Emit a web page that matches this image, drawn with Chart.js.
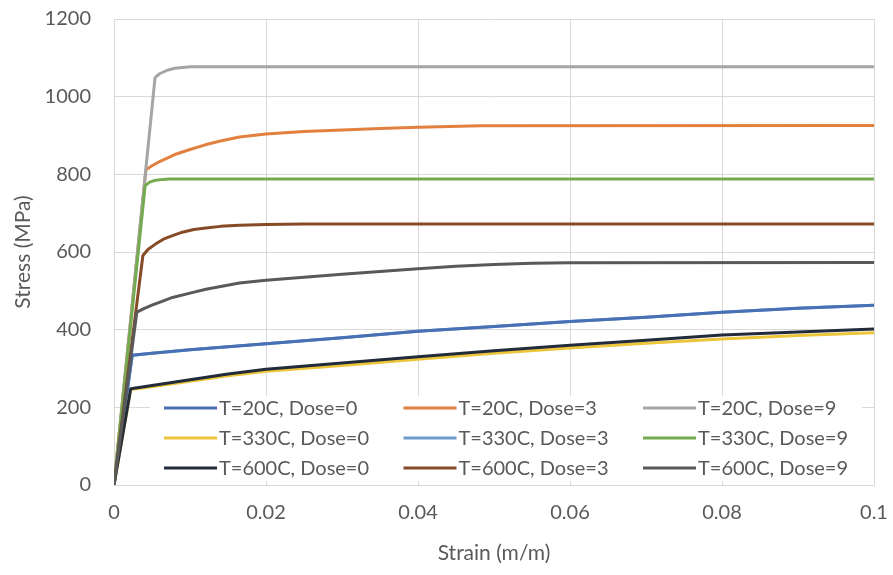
<!DOCTYPE html>
<html>
<head>
<meta charset="utf-8">
<script src="https://cdn.jsdelivr.net/npm/chart.js@4/dist/chart.umd.min.js"></script>
<style>
  html, body { margin: 0; padding: 0; background: #fff; }
  #wrap { width: 893px; height: 575px; }
</style>
</head>
<body>
<div id="wrap"><canvas id="stress-chart"></canvas></div>
<script>
// [strain (m/m), stress (MPa)] per test condition
const t20dose0 = [[0, 0], [0.0024, 334], [0.005, 339], [0.01, 348], [0.015, 356], [0.02, 364], [0.03, 379], [0.04, 396], [0.05, 408], [0.06, 421], [0.07, 432], [0.08, 445], [0.09, 455], [0.1, 463]];
const t20dose3 = [[0, 0], [0.0042, 812], [0.005, 822], [0.006, 833], [0.007, 842], [0.008, 851], [0.01, 864], [0.012, 876], [0.014, 886], [0.0165, 896], [0.02, 904], [0.025, 910], [0.03, 914], [0.035, 918], [0.04, 921], [0.0483, 925], [0.1, 926]];
const t20dose9 = [[0, 0], [0.0054, 1049], [0.006, 1059], [0.007, 1068], [0.008, 1073], [0.009, 1075], [0.0101, 1077], [0.1, 1077]];
const t330dose0 = [[0, 0], [0.0022, 246], [0.005, 253], [0.01, 267], [0.015, 281], [0.02, 293], [0.03, 308], [0.04, 324], [0.05, 339], [0.06, 353], [0.07, 365], [0.08, 376], [0.09, 385], [0.1, 392]];
const t330dose3 = [[0, 0], [0.0024, 334], [0.005, 339], [0.01, 348], [0.015, 356], [0.02, 364], [0.03, 379], [0.04, 396], [0.05, 408], [0.06, 421], [0.07, 432], [0.08, 445], [0.09, 455], [0.1, 463]];
const t330dose9 = [[0, 0], [0.0041, 771], [0.0047, 780], [0.0055, 785], [0.0065, 787], [0.0073, 788], [0.1, 788]];
const t600dose0 = [[0, 0], [0.0022, 248], [0.005, 256], [0.01, 271], [0.015, 286], [0.02, 298], [0.03, 314], [0.04, 330], [0.05, 346], [0.06, 360], [0.07, 373], [0.08, 386], [0.09, 394], [0.1, 402]];
const t600dose3 = [[0, 0], [0.0038, 591], [0.0045, 607], [0.0055, 621], [0.0065, 633], [0.0077, 642], [0.009, 651], [0.0105, 658], [0.0121, 662], [0.014, 666], [0.0165, 669], [0.02, 671], [0.025, 672], [0.1, 672]];
const t600dose9 = [[0, 0], [0.003, 445], [0.004, 455], [0.005, 463], [0.0065, 474], [0.0077, 483], [0.01, 494], [0.0121, 504], [0.0165, 520], [0.02, 527], [0.025, 535], [0.03, 543], [0.035, 550], [0.04, 557], [0.045, 563], [0.05, 568], [0.055, 571], [0.06, 572], [0.1, 573]];

const seriesNames = [
    'T=20C, Dose=0', 'T=20C, Dose=3', 'T=20C, Dose=9',
    'T=330C, Dose=0', 'T=330C, Dose=3', 'T=330C, Dose=9',
    'T=600C, Dose=0', 'T=600C, Dose=3', 'T=600C, Dose=9'
];
const seriesData = [t20dose0, t20dose3, t20dose9, t330dose0, t330dose3, t330dose9, t600dose0, t600dose3, t600dose9];

const xTicks = [0, 0.02, 0.04, 0.06, 0.08, 0.1];
const yTicks = [0, 200, 400, 600, 800, 1000, 1200];

function getColorBySeries(index) {
    switch (index) {
        case 0: return '#4870b4';
        case 1: return '#e2813f';
        case 2: return '#a5a5a5';
        case 3: return '#ecc53a';
        case 4: return '#6c9ccb';
        case 5: return '#74aa50';
        case 6: return '#222b3a';
        case 7: return '#874a26';
        case 8: return '#595959';
        default: return '#000000';
    }
}

const FONT = 'Lato, "Open Sans", sans-serif';
const TEXT = '#595959';
const GRID = '#d9d9d9';

var datasets = [];
seriesData.forEach((pairs, index) => {
    datasets.push({
        label: seriesNames[index],
        data: pairs.map(p => ({ x: p[0], y: p[1] })),
        borderColor: getColorBySeries(index),
        backgroundColor: getColorBySeries(index),
        borderWidth: 3,
        showLine: true,
        pointRadius: 0,
        tension: 0,
        borderJoinStyle: 'round',
        // later series sit on top, as in the spreadsheet; T=330C Dose=3 lies under T=20C Dose=0
        order: index === 4 ? 20 : 9 - index
    });
});

// legend box drawn inside the plot, over the gridlines
const insideLegend = {
    id: 'insideLegend',
    beforeDatasetsDraw(chart) {
        const ctx = chart.ctx;
        const area = chart.chartArea;
        ctx.save();
        ctx.fillStyle = '#ffffff';
        ctx.fillRect(area.left + 36, area.bottom - 89, area.right - area.left - 48, 85);
        ctx.font = '20px ' + FONT;
        ctx.textBaseline = 'middle';
        ctx.textAlign = 'left';
        seriesNames.forEach((name, i) => {
            const col = i % 3;
            const row = Math.floor(i / 3);
            const x = area.left + 50 + col * 239.5;
            const y = area.bottom - 77 + row * 30;
            ctx.strokeStyle = getColorBySeries(i);
            ctx.lineWidth = 3;
            ctx.beginPath();
            ctx.moveTo(x, y);
            ctx.lineTo(x + 53, y);
            ctx.stroke();
            ctx.fillStyle = TEXT;
            ctx.fillText(name, x + 55, y + 1);
        });
        ctx.restore();
    }
};

var ctx = document.getElementById('stress-chart').getContext('2d');
var myChart = new Chart(ctx, {
    type: 'scatter',
    data: { datasets: datasets },
    options: {
        responsive: true,
        maintainAspectRatio: false,
        animation: false,
        layout: { padding: { top: 19, right: 19, left: 0, bottom: 0 } },
        plugins: {
            legend: { display: false },
            tooltip: { enabled: false }
        },
        scales: {
            x: {
                type: 'linear',
                min: 0,
                max: 0.1,
                afterBuildTicks: axis => { axis.ticks = xTicks.map(v => ({ value: v })); },
                afterFit: axis => {
                    axis.height = 90;
                    axis.paddingLeft = 0;
                    axis.paddingRight = 0;
                },
                ticks: {
                    color: TEXT,
                    font: { family: FONT, size: 20 },
                    padding: 16,
                    maxRotation: 0,
                    callback: v => String(parseFloat(v.toFixed(2)))
                },
                grid: { color: GRID, drawTicks: false },
                border: { color: GRID },
                title: {
                    display: true,
                    text: 'Strain (m/m)',
                    color: TEXT,
                    font: { family: FONT, size: 21 },
                    padding: { top: 0, bottom: 9 }
                }
            },
            y: {
                type: 'linear',
                min: 0,
                max: 1200,
                afterBuildTicks: axis => { axis.ticks = yTicks.map(v => ({ value: v })); },
                afterFit: axis => {
                    axis.width = 114;
                    axis.paddingTop = 0;
                    axis.paddingBottom = 0;
                },
                ticks: {
                    color: TEXT,
                    font: { family: FONT, size: 20 },
                    padding: 23,
                    callback: v => String(v)
                },
                grid: { color: GRID, drawTicks: false },
                border: { color: GRID },
                title: {
                    display: true,
                    text: 'Stress (MPa)',
                    color: TEXT,
                    font: { family: FONT, size: 21 },
                    padding: { top: 11, bottom: 0 }
                }
            }
        }
    },
    plugins: [insideLegend]
});
</script>
</body>
</html>
